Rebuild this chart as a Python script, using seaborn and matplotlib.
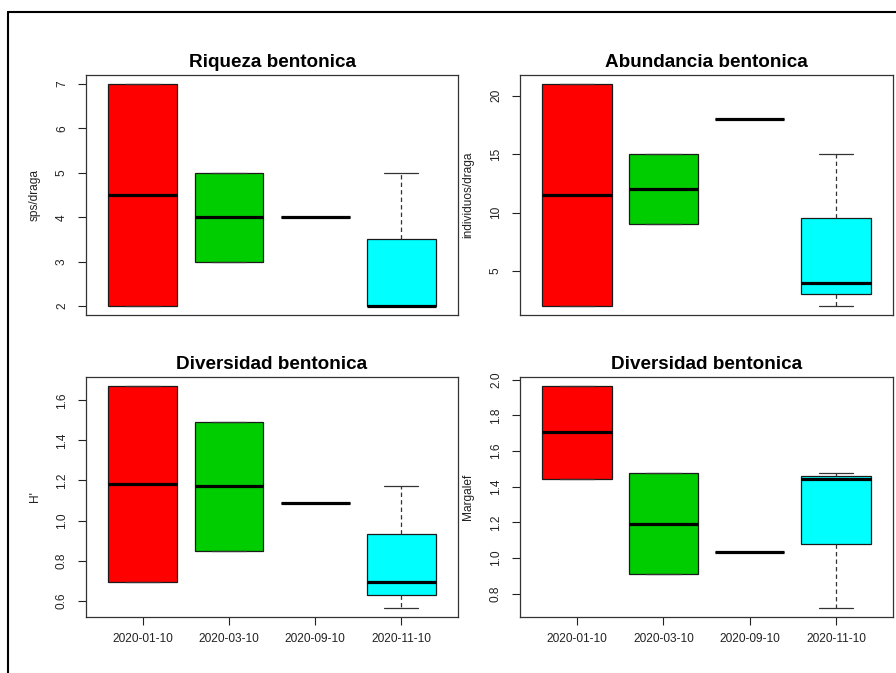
import numpy as np
import matplotlib
matplotlib.use("Agg")
import matplotlib.pyplot as plt
from matplotlib.lines import Line2D
from matplotlib.ticker import MultipleLocator
import seaborn as sns

# Sampling dates (one box per date)
fechas = ["2020-01-10", "2020-03-10", "2020-09-10", "2020-11-10"]

# Benthic samples per date (one value per dredge)
riqueza = [[2, 7], [3, 5], [4], [2, 2, 5]]
abundancia = [[2, 21], [9, 15], [18], [2, 4, 15]]
shannon = [[0.692, 1.673], [0.847, 1.493], [1.090], [0.562, 0.693, 1.173]]
margalef = [[1.443, 1.965], [0.910, 1.477], [1.034], [0.720, 1.443, 1.477]]

titulos = ["Riqueza bentonica", "Abundancia bentonica",
           "Diversidad bentonica", "Diversidad bentonica"]
etiquetas_y = ["sps/draga", "individuos/draga", "H'", "Margalef"]

sns.set_theme(style="white")
plt.rcParams["font.family"] = ["Liberation Sans", "DejaVu Sans"]
colores = sns.color_palette(["#FF0000", "#00CD00", "#0000FF", "#00FFFF"])


def fivenum(x):
    """Tukey five-number summary (min, lower hinge, median, upper hinge, max)."""
    x = np.sort(np.asarray(x, dtype=float))
    n = len(x)
    n4 = np.floor((n + 3) / 2) / 2
    d = np.array([1, n4, (n + 1) / 2, n + 1 - n4, n]) - 1
    return 0.5 * (x[np.floor(d).astype(int)] + x[np.ceil(d).astype(int)])


def box_stats(samples):
    stats = []
    for x in samples:
        arr = np.asarray(x, dtype=float)
        _, q1, med, q3, _ = fivenum(arr)
        iqr = q3 - q1
        ok = (arr >= q1 - 1.5 * iqr) & (arr <= q3 + 1.5 * iqr)
        stats.append(dict(med=med, q1=q1, q3=q3,
                          whislo=arr[ok].min(), whishi=arr[ok].max(),
                          fliers=arr[~ok]))
    return stats


def panel(ax, samples, title, ylabel, step, show_x):
    pos = np.arange(1, len(samples) + 1)
    art = ax.bxp(box_stats(samples), positions=pos, widths=0.8, capwidths=0.4,
                 patch_artist=True, showfliers=False,
                 boxprops=dict(edgecolor="#1a1a1a", linewidth=0.9),
                 medianprops=dict(color="black", linewidth=2.3,
                                  solid_capstyle="butt"),
                 whiskerprops=dict(color="#333333", linewidth=0.9,
                                   linestyle=(0, (3.5, 2.5))),
                 capprops=dict(color="#333333", linewidth=0.9))
    for patch, c in zip(art["boxes"], colores):
        patch.set_facecolor(c)

    lo = min(min(s) for s in samples)
    hi = max(max(s) for s in samples)
    r = hi - lo
    ax.set_ylim(lo - 0.04 * r, hi + 0.04 * r)
    ax.set_xlim(0.5 - 0.16, len(samples) + 0.5 + 0.16)

    ax.yaxis.set_major_locator(MultipleLocator(step))
    ax.tick_params(axis="y", labelrotation=90, length=6, width=0.8,
                   pad=7, labelsize=8.6, colors="#222222", left=True)
    for lab in ax.get_yticklabels():
        lab.set_va("center")
    if show_x:
        ax.set_xticks(pos, fechas)
        ax.tick_params(axis="x", length=6, width=0.8, pad=5.5,
                       labelsize=8.6, colors="#222222", bottom=True)
    else:
        ax.set_xticks([])

    for sp in ax.spines.values():
        sp.set_color("#333333")
        sp.set_linewidth(0.9)

    ax.set_title(title, fontsize=13.6, fontweight="bold", pad=6, color="black")
    ax.set_ylabel(ylabel, fontsize=8.6, color="#222222")
    ax.yaxis.set_label_coords(-0.122, 0.5)


W, H = 896, 673
fig = plt.figure(figsize=(W / 100, H / 100), dpi=100)
fig.patch.set_facecolor("white")

cajas = [(86, 75, 458, 315), (520, 75, 893, 315),
         (86, 377, 458, 617), (520, 377, 893, 617)]
datos = [riqueza, abundancia, shannon, margalef]
pasos = [1, 5, 0.2, 0.2]

for i, ((x0, y0, x1, y1), d) in enumerate(zip(cajas, datos)):
    ax = fig.add_axes([x0 / W, 1 - y1 / H, (x1 - x0) / W, (y1 - y0) / H])
    ax.set_facecolor("white")
    panel(ax, d, titulos[i], etiquetas_y[i], pasos[i], show_x=i >= 2)

# Outer frame around the plotting device
fig.add_artist(Line2D([8 / W, 1], [1 - 12 / H, 1 - 12 / H],
                      transform=fig.transFigure, color="black", lw=1.5))
fig.add_artist(Line2D([8 / W, 8 / W], [0, 1 - 12 / H],
                      transform=fig.transFigure, color="black", lw=1.5))

fig.savefig("out.png", dpi=100)
